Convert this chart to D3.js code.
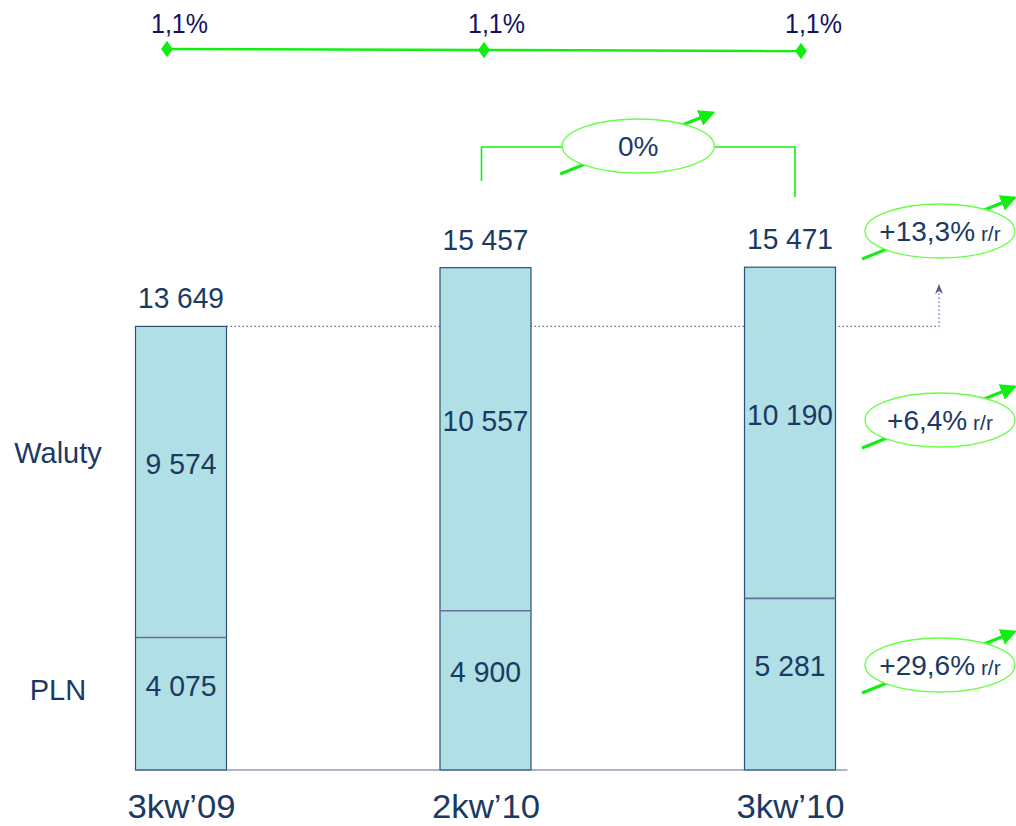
<!DOCTYPE html>
<html>
<head>
<meta charset="utf-8">
<script src="https://cdn.jsdelivr.net/npm/d3@7"></script>
<style>
  body { margin: 0; background: #fff; }
  svg { display: block; font-family: "Liberation Sans", Arial, sans-serif; }
</style>
</head>
<body>
<div id="chart"></div>
<script>
// data
var quarters = ["3kw\u201909", "2kw\u201910", "3kw\u201910"];
var pln      = [4075, 4900, 5281];
var waluty   = [9574, 10557, 10190];
var totals   = [13649, 15457, 15471];
var shares   = [1.1, 1.1, 1.1];          // top line, %
var qoqChange = "0%";                     // between 2kw'10 and 3kw'10
var yoyLabels = ["+13,3%", "+6,4%", "+29,6%"];  // total, waluty, pln
var seriesNames = ["Waluty", "PLN"];

var W = 1016, H = 826;
var navy = "#1b3a63", green = "#11ee11";

var svg = d3.select("#chart").append("svg")
    .attr("width", W)
    .attr("height", H);

var defs = svg.append("defs");
defs.append("marker")
    .attr("id", "greenHead")
    .attr("viewBox", "0 0 10 10")
    .attr("refX", 8).attr("refY", 5)
    .attr("markerWidth", 5.5).attr("markerHeight", 5.5)
    .attr("markerUnits", "strokeWidth")
    .attr("orient", "auto")
  .append("path")
    .attr("d", "M0,0 L10,5 L0,10 z")
    .attr("fill", green);
defs.append("marker")
    .attr("id", "blueHead")
    .attr("viewBox", "0 0 10 10")
    .attr("refX", 9).attr("refY", 5)
    .attr("markerWidth", 10).attr("markerHeight", 14)
    .attr("markerUnits", "userSpaceOnUse")
    .attr("orient", "auto")
  .append("path")
    .attr("d", "M0,1 L10,5 L0,9 L3,5 z")
    .attr("fill", "#5a5a9a");

// scales
var x = d3.scalePoint().domain(quarters).range([181, 790]);
var barW = 91;
var y = d3.scaleLinear().domain([0, 16000]).range([770, 250]);
var xTop = d3.scalePoint().domain(quarters).range([167, 801]);
var yTop = d3.scaleLinear().domain([1.0, 1.2]).range([60, 40]);

/* top line with 1,1% markers */
svg.append("path")
    .datum(shares)
    .attr("fill", "none")
    .attr("stroke", green)
    .attr("stroke-width", 2.5)
    .attr("d", d3.line()
        .x(function(d, i) { return xTop(quarters[i]); })
        .y(function(d, i) { return yTop(d) - 1 + i; }));

svg.selectAll(".diamond")
    .data(shares)
  .enter().append("path")
    .attr("class", "diamond")
    .attr("d", d3.symbol().type(d3.symbolDiamond).size(110))
    .attr("transform", function(d, i) {
        return "translate(" + xTop(quarters[i]) + "," + (yTop(d) - 1 + i) + ") scale(1.05,0.85)";
    })
    .attr("fill", green);

svg.selectAll(".shareLabel")
    .data(shares)
  .enter().append("text")
    .attr("class", "shareLabel")
    .attr("x", function(d, i) { return xTop(quarters[i]) - 16; })
    .attr("y", 33)
    .attr("font-size", 28)
    .attr("fill", "#12125e")
    .attr("textLength", 57)
    .attr("lengthAdjust", "spacingAndGlyphs")
    .text(function(d) { return d3.format(".1f")(d).replace(".", ",") + "%"; });

/* dotted reference line from first total */
var refY = y(totals[0]);
svg.append("path")
    .attr("d", "M" + (x(quarters[0]) + barW / 2) + "," + refY + " H939 V285")
    .attr("fill", "none")
    .attr("stroke", "#6a6aa8")
    .attr("stroke-width", 1.2)
    .attr("stroke-dasharray", "1.5,2.5")
    .attr("marker-end", "url(#blueHead)");

/* stacked bars */
var bars = svg.selectAll(".bar")
    .data(quarters)
  .enter().append("g")
    .attr("class", "bar");

bars.append("rect")
    .attr("x", function(d) { return x(d) - barW / 2; })
    .attr("y", function(d, i) { return y(pln[i] + waluty[i]); })
    .attr("width", barW)
    .attr("height", function(d, i) { return y(0) - y(pln[i] + waluty[i]); })
    .attr("fill", "#b0dfe5")
    .attr("stroke", "#2f4f78")
    .attr("stroke-width", 1.2);

bars.append("line")
    .attr("x1", function(d) { return x(d) - barW / 2; })
    .attr("x2", function(d) { return x(d) + barW / 2; })
    .attr("y1", function(d, i) { return y(pln[i]); })
    .attr("y2", function(d, i) { return y(pln[i]); })
    .attr("stroke", "#6b6b9e")
    .attr("stroke-width", 1.6);

var fmt = function(v) { return d3.format(",")(v).replace(/,/g, " "); };

function numLabel(sel, yFn, val) {
    sel.append("text")
        .attr("x", function(d) { return x(d); })
        .attr("y", yFn)
        .attr("text-anchor", "middle")
        .attr("font-size", 30)
        .attr("fill", navy)
        .attr("textLength", function(d, i) { return val(i) >= 10000 ? 86 : 71; })
        .attr("lengthAdjust", "spacingAndGlyphs")
        .text(function(d, i) { return fmt(val(i)); });
}

numLabel(bars, function(d, i) { return y(totals[i]) - 18; },
    function(i) { return totals[i]; });
numLabel(bars, function(d, i) { return (y(pln[i]) + y(pln[i] + waluty[i])) / 2 - 8; },
    function(i) { return waluty[i]; });
numLabel(bars, function(d, i) { return (y(0) + y(pln[i])) / 2 - 8; },
    function(i) { return pln[i]; });

/* baseline + category axis */
svg.append("line")
    .attr("x1", x(quarters[0]) - barW / 2)
    .attr("x2", x(quarters[2]) + barW / 2 + 12)
    .attr("y1", y(0)).attr("y2", y(0))
    .attr("stroke", "#5a6f90")
    .attr("stroke-width", 1.2);

var xAxis = svg.append("g")
    .attr("transform", "translate(0," + y(0) + ")")
    .call(d3.axisBottom(x).tickSize(0).tickPadding(24));
xAxis.select(".domain").remove();
xAxis.selectAll("text")
    .attr("font-family", "Liberation Sans, Arial, sans-serif")
    .attr("font-size", 34)
    .attr("textLength", 108)
    .attr("lengthAdjust", "spacingAndGlyphs")
    .attr("fill", navy);

/* series names on the left */
svg.selectAll(".seriesName")
    .data(seriesNames)
  .enter().append("text")
    .attr("class", "seriesName")
    .attr("x", 58)
    .attr("y", function(d, i) { return i === 0 ? 463 : 700; })
    .attr("text-anchor", "middle")
    .attr("font-size", 29)
    .attr("fill", navy)
    .text(function(d) { return d; });

/* helper: green ellipse with a rising arrow behind it */
function badge(cx, cy, rx, main, small) {
    svg.append("line")
        .attr("x1", cx - 78).attr("y1", cy + 28)
        .attr("x2", cx + 74).attr("y2", cy - 33)
        .attr("stroke", green)
        .attr("stroke-width", 3)
        .attr("marker-end", "url(#greenHead)");
    svg.append("ellipse")
        .attr("cx", cx).attr("cy", cy)
        .attr("rx", rx).attr("ry", 27)
        .attr("fill", "#fff")
        .attr("stroke", "#66ff44")
        .attr("stroke-width", 1.3);
    var t = svg.append("text")
        .attr("x", cx).attr("y", cy + 10)
        .attr("text-anchor", "middle")
        .attr("font-size", 28)
        .attr("fill", navy)
        .text(main);
    if (small) {
        t.append("tspan").attr("font-size", 21).text(" " + small);
    }
}

/* bracket between 2kw'10 and 3kw'10 */
var bx1 = x(quarters[1]) - 4, bx2 = x(quarters[2]) + 5, by = 147;
var bcx = (bx1 + bx2) / 2;
svg.append("path")
    .attr("d", "M" + bx1 + ",181 V" + by + " H" + bx2 + " V197")
    .attr("fill", "none")
    .attr("stroke", green)
    .attr("stroke-width", 1.6);
badge(bcx, 146, 76, qoqChange, null);

/* year-on-year badges on the right */
var badgeY = [231, 420, 665];
yoyLabels.forEach(function(lbl, i) {
    badge(940, badgeY[i], 75, lbl, "r/r");
});
</script>
</body>
</html>
